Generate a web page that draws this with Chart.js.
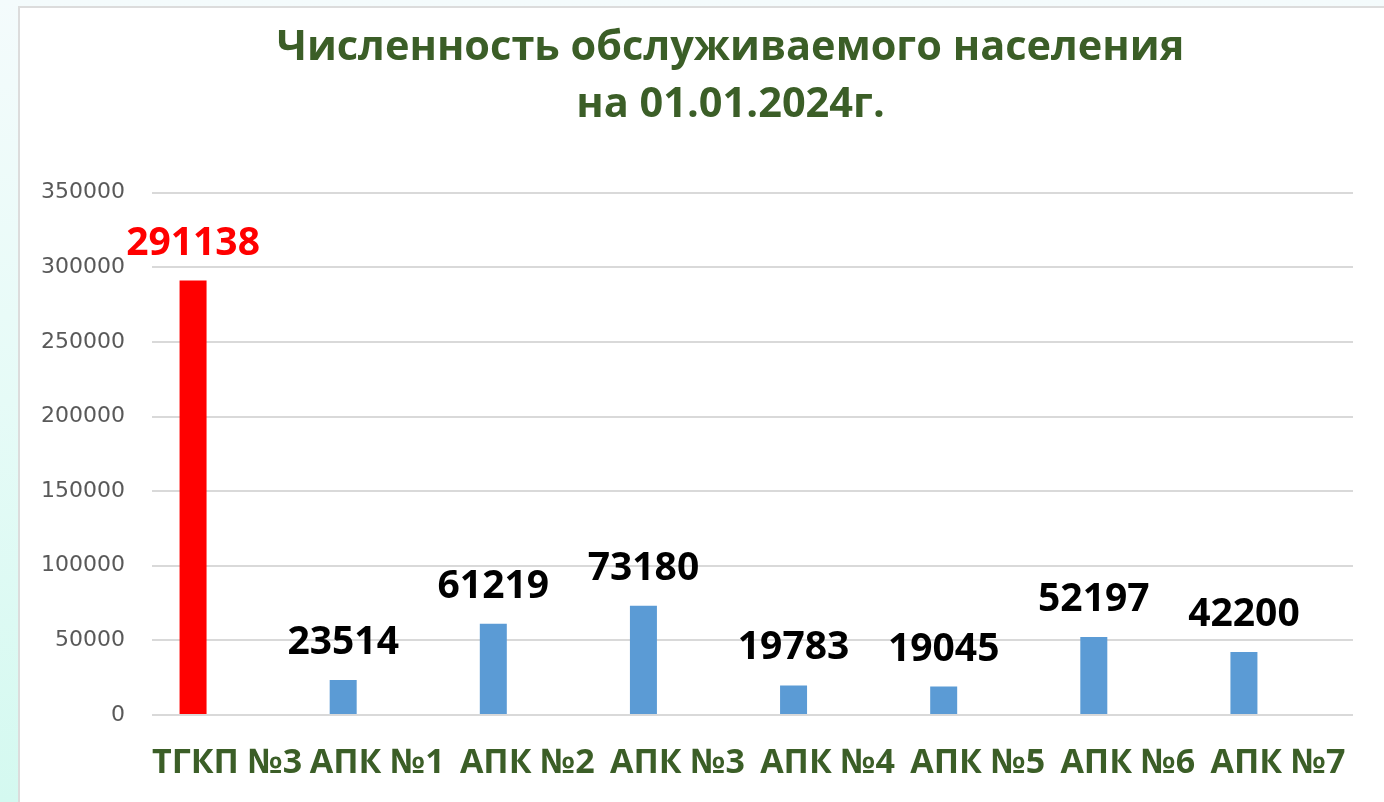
<!DOCTYPE html>
<html>
<head>
<meta charset="utf-8">
<script src="https://cdn.jsdelivr.net/npm/chart.js@4.4.1/dist/chart.umd.min.js"></script>
<style>
  html, body { margin: 0; padding: 0; width: 1384px; height: 802px; overflow: hidden; }
  body { background: linear-gradient(to bottom, #f4fbfc 0%, #e6fbf7 50%, #d4f9f0 100%); position: relative; }
  #box { position: absolute; left: 18px; top: 6px; width: 1400px; height: 900px; background: #ffffff; border-left: 2px solid #dcdcdc; border-top: 2px solid #dcdcdc; }
  #c { position: absolute; left: 0; top: 0; }
</style>
</head>
<body>
<div id="box"></div>
<canvas id="c" width="1384" height="802"></canvas>
<script>
const categories = ['ТГКП №3', 'АПК №1', 'АПК №2', 'АПК №3', 'АПК №4', 'АПК №5', 'АПК №6', 'АПК №7'];
const population = [291138, 23514, 61219, 73180, 19783, 19045, 52197, 42200];
const emptySeries = [null, null, null, null, null, null, null, null];
const yTicks = [0, 50000, 100000, 150000, 200000, 250000, 300000, 350000];
const titleLines = ['Численность обслуживаемого населения', 'на 01.01.2024г.'];

const barColors = population.map((v, i) => i === 0 ? '#FF0000' : '#5B9BD5');
const labelColors = population.map((v, i) => i === 0 ? '#FF0000' : '#000000');

const valueLabels = {
  id: 'valueLabels',
  afterLayout(chart) {
    const t = chart.titleBlock;
    if (t) { t.left += 34; t.right += 34; }
  },
  afterDatasetsDraw(chart) {
    const ctx = chart.ctx;
    const meta = chart.getDatasetMeta(0);
    ctx.save();
    ctx.font = 'bold 39px "Open Sans"';
    ctx.textAlign = 'center';
    ctx.textBaseline = 'alphabetic';
    meta.data.forEach((el, i) => {
      ctx.fillStyle = labelColors[i];
      ctx.fillText(String(population[i]), el.x, el.y - 26);
    });
    ctx.restore();
  }
};

new Chart(document.getElementById('c'), {
  type: 'bar',
  data: {
    labels: categories,
    datasets: [
      { data: population, backgroundColor: barColors, categoryPercentage: 0.906, barPercentage: 0.397 },
      { data: emptySeries, backgroundColor: '#A5A5A5', categoryPercentage: 0.906, barPercentage: 0.397 }
    ]
  },
  options: {
    responsive: false,
    animation: false,
    events: [],
    layout: { padding: { left: 40, right: 31, top: 0, bottom: 0 } },
    plugins: {
      legend: { display: false },
      tooltip: { enabled: false },
      title: {
        display: true,
        text: titleLines,
        color: '#3B5E27',
        font: { family: '"Open Sans"', size: 41.5, weight: 'bold', lineHeight: 1.37 },
        padding: { top: 20, bottom: 59 }
      }
    },
    scales: {
      x: {
        grid: { display: false },
        border: { display: false },
        afterFit(scale) { scale.height = 87; },
        ticks: {
          color: '#3B5E27',
          font: { family: '"Open Sans"', size: 34, weight: 'bold' },
          padding: 20,
          autoSkip: false,
          maxRotation: 0,
          minRotation: 0
        }
      },
      y: {
        min: 0,
        max: 350000,
        afterBuildTicks(scale) { scale.ticks = yTicks.map(v => ({ value: v })); },
        afterFit(scale) { scale.width = 112; },
        border: { display: false },
        grid: { color: '#D9D9D9', lineWidth: 2, drawTicks: false },
        ticks: {
          color: '#595959',
          font: { family: '"DejaVu Sans"', size: 22 },
          padding: 27,
          callback: (v) => String(v)
        }
      }
    }
  },
  plugins: [valueLabels]
});
</script>
</body>
</html>
